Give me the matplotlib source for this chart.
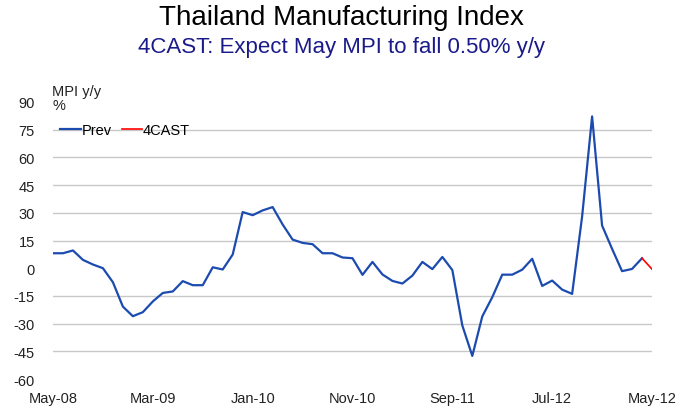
import matplotlib
matplotlib.use("Agg")
import matplotlib.pyplot as plt

plt.rcParams['font.family'] = ['Liberation Sans', 'DejaVu Sans']

# monthly MPI y/y, May-08 .. Apr-13
prev = [8.1, 8.1, 9.6, 4.5, 2.0, 0.0, -7.6, -20.8, -26.0, -23.8,
        -18.0, -13.4, -12.6, -7.0, -9.2, -9.2, 0.5, -0.7, 7.4, 30.4,
        28.7, 31.3, 33.1, 23.7, 15.5, 13.7, 13.0, 8.1, 8.1, 5.8,
        5.4, -3.6, 3.4, -3.4, -6.9, -8.3, -4.0, 3.4, -0.5, 6.1,
        -1.0, -31.0, -47.5, -26.1, -15.7, -3.5, -3.5, -0.8, 5.1, -9.6,
        -6.7, -11.6, -13.9, 28.0, 82.2, 23.1, 10.5, -1.6, -0.4, 5.4]
forecast = [5.4, -0.5]  # Apr-13 -> May-13 (4CAST)
tick_pos = [0, 10, 20, 30, 40, 50, 60]
tick_labels = ["May-08", "Mar-09", "Jan-10", "Nov-10", "Sep-11", "Jul-12", "May-12"]
y_ticks = [90, 75, 60, 45, 30, 15, 0, -15, -30, -45, -60]
grid_levels = [75, 60, 45, 30, 15, -15, -30, -45]

fig = plt.figure(figsize=(6.82, 4.10), dpi=100)
ax = fig.add_axes([53 / 682, 1 - 380 / 410, (652 - 53) / 682, (380 - 103) / 410])

for g in grid_levels:
    ax.axhline(g, color="#c8c8c8", lw=1.0, zorder=0)

x_prev = list(range(len(prev)))
x_fc = [len(prev) - 1, len(prev)]
ax.plot(x_prev, prev, color="#1c4bb0", lw=1.6, label="Prev", zorder=3)
ax.plot(x_fc, forecast, color="#ff0000", lw=1.2, label="4CAST", zorder=3)

ax.set_xlim(0, 60)
ax.set_ylim(-60, 90)
ax.set_yticks(y_ticks)
ax.set_yticklabels([str(v) for v in y_ticks])
ax.set_xticks(tick_pos)
ax.set_xticklabels(tick_labels)
ax.tick_params(axis="both", length=0, labelsize=10.5, colors="#222222")
ax.tick_params(axis="y", pad=13)
ax.tick_params(axis="x", pad=9)
for s in ax.spines.values():
    s.set_visible(False)

ax.text(-0.001, 1.016, "MPI y/y\n%", transform=ax.transAxes, ha="left", va="center",
        fontsize=10.5, linespacing=1.0, color="#222222")

ax.legend(loc="center left", bbox_to_anchor=(0.012, 0.899), frameon=False, ncol=2,
          fontsize=10.5, handlelength=1.4, handletextpad=0.05, columnspacing=0.7,
          borderaxespad=0.0, borderpad=0.0)

fig.text(0.5, 0.955, "Thailand Manufacturing Index", ha="center", va="center",
         fontsize=20, color="black")
fig.text(0.5, 0.885, "4CAST: Expect May MPI to fall 0.50% y/y", ha="center",
         va="center", fontsize=16, color="#1a1a8a")

fig.savefig("out.png", dpi=100)
